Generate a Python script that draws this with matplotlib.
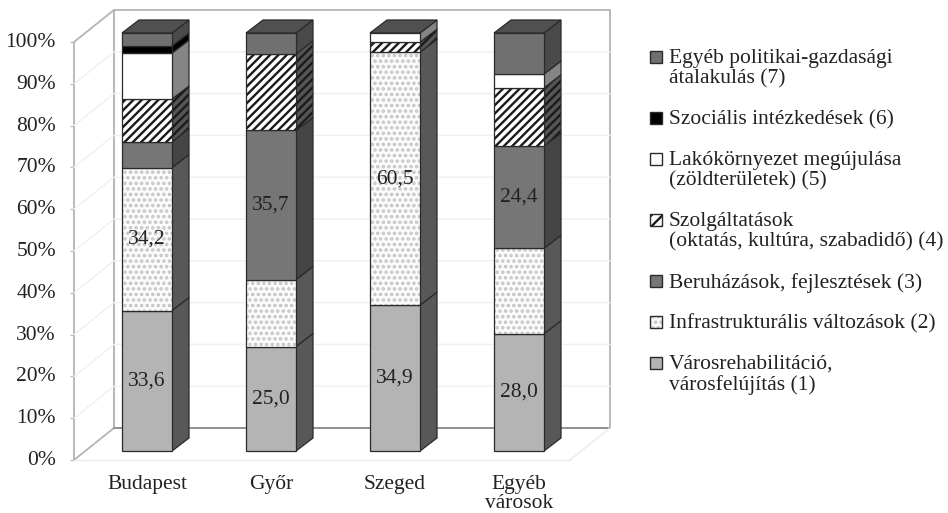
import matplotlib
matplotlib.use("Agg")
import matplotlib.pyplot as plt
from matplotlib.patches import Polygon, Rectangle
from matplotlib.transforms import ScaledTranslation
import numpy as np

plt.rcParams['font.family'] = ['Liberation Serif', 'DejaVu Serif']
plt.rcParams['hatch.linewidth'] = 1.7

cities = ["Budapest", "Győr", "Szeged", "Egyéb\nvárosok"]

varosrehab = [33.6, 25.0, 34.9, 28.0]
infrastruktura = [34.2, 16.0, 60.5, 20.4]
beruhazas = [6.2, 35.7, 0, 24.4]
szolgaltatas = [10.2, 18.3, 2.4, 13.9]
lakokornyezet = [11.0, 0, 2.2, 3.3]
szocialis = [1.7, 0, 0, 0]
egyeb = [3.1, 5.0, 0, 9.8]

value_labels = [
    ["33,6", "34,2", "", "", "", "", ""],
    ["25,0", "", "35,7", "", "", "", ""],
    ["34,9", "60,5", "", "", "", "", ""],
    ["28,0", "", "24,4", "", "", "", ""],
]

legend_labels = [
    "Egyéb politikai-gazdasági\nátalakulás (7)",
    "Szociális intézkedések (6)",
    "Lakókörnyezet megújulása\n(zöldterületek) (5)",
    "Szolgáltatások\n(oktatás, kultúra, szabadidő) (4)",
    "Beruházások, fejlesztések (3)",
    "Infrastrukturális változások (2)",
    "Városrehabilitáció,\nvárosfelújítás (1)",
]

series = [varosrehab, infrastruktura, beruhazas, szolgaltatas, lakokornyezet, szocialis, egyeb]
# front, side, hatch, hatch colour
styles = [
    ("#b4b4b4", "#585858", None, None),
    ("#fbfbfb", "#585858", "...", "#c4c4c4"),
    ("#767676", "#454545", None, None),
    ("#ffffff", "#555555", "////", "#1a1a1a"),
    ("#ffffff", "#858585", None, None),
    ("#000000", "#000000", None, None),
    ("#707070", "#4a4a4a", None, None),
]

W, H = 948, 513
fig = plt.figure(figsize=(W / 100, H / 100), dpi=100)
ax = fig.add_axes([74 / W, (H - 460) / H, 496 / W, 418 / H])
ax.set_xlim(-0.5, 3.5)
ax.set_ylim(0, 100)
ax.patch.set_visible(False)

px_x = 1 / 124
px_y = 1 / 4.18
wall_dx, wall_dy = 40 * px_x, 32 * px_y
bar_off_x, bar_off_y = 11 * px_x, 9 * px_y
bar_w = 50 * px_x
bar_dx, bar_dy = 17 * px_x, 13 * px_y
edge = "#2a2a2a"
wall_c = "#b4b4b4"
txt_c = "#222222"
fs = 15.5

# walls and gridlines
ax.add_patch(Polygon([(-0.5, 0), (-0.5 + wall_dx, wall_dy), (-0.5 + wall_dx, 100 + wall_dy), (-0.5, 100)],
                     fc="white", ec=wall_c, lw=1.3, clip_on=False))
ax.add_patch(Rectangle((-0.5 + wall_dx, wall_dy), 4, 100, fc="white", ec=wall_c, lw=1.3, clip_on=False))
for g in range(10, 100, 10):
    ax.plot([-0.5, -0.5 + wall_dx, 3.5 + wall_dx], [g, g + wall_dy, g + wall_dy],
            color="#f0f0f0", lw=1, clip_on=False)
ax.plot([-0.5 + wall_dx, 3.5 + wall_dx], [wall_dy, wall_dy], color="#8c8c8c", lw=1.2, clip_on=False, zorder=2)
ax.plot([3.5, 3.5 + wall_dx], [0, wall_dy], color="#ececec", lw=1, clip_on=False)

for i, city in enumerate(cities):
    x0 = i + bar_off_x - bar_w / 2
    x1 = x0 + bar_w
    total = sum(s[i] for s in series)
    bottom = 0
    for j, s in enumerate(series):
        v = s[i] / total * 100
        if v == 0:
            continue
        b = bottom + bar_off_y
        t = b + v
        front, side, hatch, hc = styles[j]
        side_pts = [(x1, b), (x1 + bar_dx, b + bar_dy), (x1 + bar_dx, t + bar_dy), (x1, t)]
        ax.add_patch(Polygon(side_pts, fc=side, ec=hc if hatch == "////" else "none",
                             hatch="////" if hatch == "////" else None, lw=0, clip_on=False, zorder=3))
        ax.add_patch(Polygon(side_pts, fc="none", ec=edge, lw=0.9, clip_on=False, zorder=3))
        ax.add_patch(Rectangle((x0, b), bar_w, v, fc=front, ec=hc if hatch else "none", hatch=hatch,
                               lw=0, clip_on=False, zorder=3))
        ax.add_patch(Rectangle((x0, b), bar_w, v, fc="none", ec=edge, lw=0.9, clip_on=False, zorder=3))
        if value_labels[i][j]:
            ax.text((x0 + x1) / 2, b + v / 2, value_labels[i][j], ha="center", va="center",
                    fontsize=fs, color=txt_c, zorder=4)
        bottom += v
    top = bottom + bar_off_y
    ax.add_patch(Polygon([(x0, top), (x1, top), (x1 + bar_dx, top + bar_dy), (x0 + bar_dx, top + bar_dy)],
                         fc="#505050", ec=edge, lw=0.9, clip_on=False, zorder=3))

ax.set_yticks(np.arange(0, 101, 10))
ax.set_yticklabels([f"{g}%" for g in range(0, 101, 10)], fontsize=fs, color=txt_c)
ax.set_xticks(np.arange(4) + bar_off_x)
ax.set_xticklabels(cities, fontsize=fs, color=txt_c, linespacing=1.0)
ax.tick_params(axis="y", length=3, color=wall_c, pad=10)
ax.tick_params(axis="x", length=0, pad=11)
# tick labels sit a little above their ticks in the original
shift = ScaledTranslation(0, 2 / 100, fig.dpi_scale_trans)
for lab in ax.get_yticklabels():
    lab.set_transform(lab.get_transform() + shift)
for name, spine in ax.spines.items():
    spine.set_visible(False)
ax.plot([-0.5, 3.5], [0, 0], color="#ececec", lw=1, clip_on=False)

# legend, handle sits on the first line of each entry
y_px = 57
order = list(range(6, -1, -1))
for lab, j in zip(legend_labels, order):
    front, side, hatch, hc = styles[j]
    if j == 3:
        hatch = "///"
    fig.add_artist(Rectangle((650 / W, 1 - (y_px + 6) / H), 12 / W, 12 / H, transform=fig.transFigure,
                             fc=front, ec=hc if hatch else "none", hatch=hatch, lw=0))
    fig.add_artist(Rectangle((650 / W, 1 - (y_px + 6) / H), 12 / W, 12 / H, transform=fig.transFigure,
                             fc="none", ec=edge, lw=1))
    fig.text(669 / W, 1 - (y_px - 8) / H, lab, fontsize=fs, color=txt_c, va="top", linespacing=1.1)
    y_px += lab.count("\n") * 20 + 41

fig.savefig("out.png", dpi=100)
